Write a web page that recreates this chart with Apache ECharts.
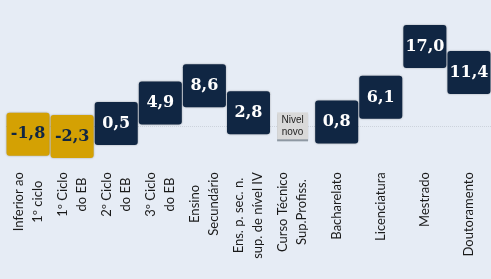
<!DOCTYPE html>
<html>
<head>
<meta charset="utf-8">
<script src="https://cdn.jsdelivr.net/npm/echarts@6/dist/echarts.min.js"></script>
<style>
  html, body { margin: 0; padding: 0; background: #E6ECF5; }
  #chart { width: 491px; height: 279px; }
</style>
</head>
<body>
<div id="chart"></div>
<script>
(function(){

    // categorias (niveis de ensino)
    var categories = ['Inferior ao\n1º ciclo', '1º Ciclo\ndo EB', '2º Ciclo\ndo EB', '3º Ciclo\ndo EB',
        'Ensino\nSecundário', 'Ens. p. sec. n.\nsup. de nível IV', 'Curso Técnico\nSup.Profiss.',
        'Bacharelato', 'Licenciatura', 'Mestrado', 'Doutoramento'];
    // variacao (null = nivel novo)
    var values = [-1.8, -2.3, 0.5, 4.9, 8.6, 2.8, null, 0.8, 6.1, 17.0, 11.4];
    var novoIndex = 6;
    var novoText = 'Nivel\nnovo';

    var navy = '#102643';
    var gold = '#D4A103';

    // quadrado com cantos pouco arredondados
    var boxPath = 'path://M7,0 L93,0 Q100,0 100,7 L100,93 Q100,100 93,100 L7,100 Q0,100 0,93 L0,7 Q0,0 7,0 Z';

    var chart = echarts.init(document.getElementById('chart'));

    var boxData = [];
    for (var i = 0; i < values.length; i++) {
        if (values[i] === null) continue;
        var neg = values[i] < 0;
        boxData.push({
            value: [i, values[i]],
            itemStyle: { color: neg ? gold : navy },
            label: { color: neg ? navy : '#ffffff' }
        });
    }

    var option = {
        backgroundColor: '#E6ECF5',
        animation: false,
        grid: { left: 6, right: -3, top: 4.4, bottom: 115.8 },
        xAxis: {
            type: 'category',
            data: categories,
            axisLine: { show: false, onZero: false },
            axisTick: { show: false },
            splitLine: { show: false },
            axisLabel: {
                interval: 0,
                rotate: 90,
                margin: 9,
                color: '#1a1a1a',
                formatter: function (v) {
                    return v.split('\n').map(function (s) { return '{c|' + s + '}'; }).join('\n');
                },
                rich: {
                    c: { align: 'center', fontFamily: 'Lato', fontSize: 13, lineHeight: 19, color: '#1a1a1a' }
                }
            }
        },
        yAxis: {
            type: 'value',
            min: -8,
            max: 26,
            show: false
        },
        series: [
            {
                // linha de base
                type: 'scatter',
                data: [],
                z: 1,
                markLine: {
                    z: 1,
                    silent: true,
                    symbol: 'none',
                    label: { show: false },
                    lineStyle: { color: '#cdd3dc', type: 'dotted', width: 1 },
                    data: [{ yAxis: 0 }]
                }
            },
            {
                type: 'scatter',
                z: 3,
                symbol: boxPath,
                symbolSize: [43, 43],
                symbolKeepAspect: false,
                itemStyle: {
                    opacity: 1,
                    shadowBlur: 2,
                    shadowColor: 'rgba(0,0,0,0.35)'
                },
                label: {
                    show: true,
                    position: 'inside',
                    fontFamily: 'DejaVu Serif',
                    fontWeight: 'bold',
                    fontSize: 16,
                    formatter: function (p) {
                        return p.value[1].toFixed(1).replace('.', ',');
                    }
                },
                data: boxData
            },
            {
                type: 'scatter',
                z: 3,
                symbol: 'rect',
                symbolSize: [31, 27],
                itemStyle: {
                    color: '#D9D9D9',
                    opacity: 1,
                    shadowColor: '#8e98a3',
                    shadowOffsetY: 2,
                    shadowBlur: 0
                },
                label: {
                    show: true,
                    position: 'inside',
                    fontFamily: 'Liberation Sans',
                    fontSize: 10,
                    lineHeight: 12,
                    color: '#222222',
                    formatter: function () { return novoText; }
                },
                data: [[novoIndex, 0]]
            }
        ]
    };

    chart.setOption(option);

})();
</script>
</body>
</html>
